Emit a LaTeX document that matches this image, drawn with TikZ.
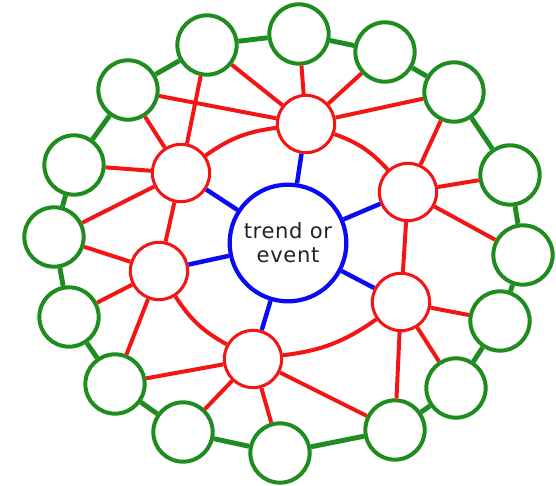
\documentclass[tikz,border=0pt]{standalone}
\usepackage{fontspec}
\newfontfamily\hubfont[LetterSpace=3]{DejaVu Sans}
\definecolor{hubblue}{RGB}{10,10,245}
\definecolor{ideared}{RGB}{245,20,20}
\definecolor{leafgreen}{RGB}{30,140,30}
\definecolor{ink}{RGB}{35,35,35}
\tikzset{
  hub/.style={circle,draw=hubblue,line width=3.6pt,fill=white,minimum size=3.5cm,
    inner sep=0pt,align=center,font=\hubfont\fontsize{18}{20.5}\selectfont,text=ink},
  idea/.style={circle,draw=ideared,line width=2.6pt,fill=white,minimum size=1.72cm,inner sep=0pt},
  leaf/.style={circle,draw=leafgreen,line width=3.4pt,fill=white,minimum size=1.78cm,inner sep=0pt},
  spoke/.style={draw=hubblue,line width=3.8pt},
  link/.style={draw=ideared,line width=3.4pt},
  ring/.style={draw=leafgreen,line width=4.2pt},
}

\begin{document}
\begin{tikzpicture}[x=0.03cm,y=-0.03cm]
  \useasboundingbox (0,0) rectangle (556,486);
  % centre
  \node[hub] (trend) at (288,243) {trend or\\event};
  % first ring
  \node[idea] (r1) at (306,124) {};
  \node[idea] (r2) at (181,173) {};
  \node[idea] (r3) at (408,192) {};
  \node[idea] (r4) at (159,271) {};
  \node[idea] (r5) at (401,302) {};
  \node[idea] (r6) at (253,359) {};
  % outer ring
  \node[leaf] (g1) at (299,34) {};
  \node[leaf] (g2) at (207,45) {};
  \node[leaf] (g3) at (385,52) {};
  \node[leaf] (g4) at (128,90) {};
  \node[leaf] (g5) at (454,92) {};
  \node[leaf] (g6) at (74,165) {};
  \node[leaf] (g7) at (510,175) {};
  \node[leaf] (g8) at (54,237) {};
  \node[leaf] (g9) at (523,255) {};
  \node[leaf] (g10) at (69,317) {};
  \node[leaf] (g11) at (500,321) {};
  \node[leaf] (g12) at (115,384) {};
  \node[leaf] (g13) at (456,388) {};
  \node[leaf] (g14) at (183,432) {};
  \node[leaf] (g15) at (395,430) {};
  \node[leaf] (g16) at (280,453) {};

  \foreach \r in {r1,r2,r3,r4,r5,r6} \draw[spoke] (trend) -- (\r);
  \foreach \a/\b in {g1/g3,g3/g5,g5/g7,g7/g9,g9/g11,g11/g13,g13/g15,g15/g16,
      g16/g14,g14/g12,g12/g10,g10/g8,g8/g6,g6/g4,g4/g2,g2/g1}
    \draw[ring] (\a) -- (\b);

  \foreach \g in {g1,g2,g3,g4,g5} \draw[link] (r1) -- (\g);
  \foreach \g in {g2,g4,g6,g8} \draw[link] (r2) -- (\g);
  \foreach \g in {g5,g7,g9} \draw[link] (r3) -- (\g);
  \foreach \g in {g8,g10,g12} \draw[link] (r4) -- (\g);
  \foreach \g in {g11,g13,g15} \draw[link] (r5) -- (\g);
  \foreach \g in {g12,g14,g16,g15} \draw[link] (r6) -- (\g);
  \draw[link] (r2) -- (r4);
  \draw[link] (r3) -- (r5);
  \draw[link] (r2) to[bend left=14] (r1);
  \draw[link] (r1) to[bend left=14] (r3);
  \draw[link] (r5) to[bend left=14] (r6);
  \draw[link] (r6) to[bend left=14] (r4);
\end{tikzpicture}
\end{document}
